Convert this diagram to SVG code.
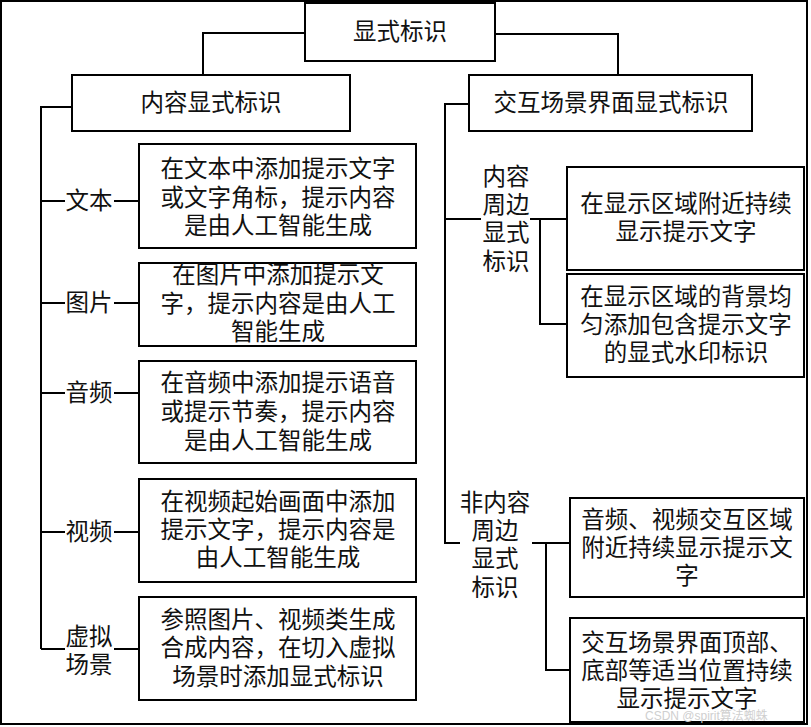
<svg xmlns="http://www.w3.org/2000/svg" width="811" height="727" viewBox="0 0 811 727">
<style>
.box{fill:#fff;stroke:#000;stroke-width:2}
.ln{fill:none;stroke:#000;stroke-width:2}
text{font-family:"Liberation Sans","Noto Sans CJK SC",sans-serif;font-size:23.5px;fill:#111;text-anchor:middle;dominant-baseline:central}
.wm{font-size:12px;fill:#cfcfcf;text-anchor:start}
</style>
<rect x="0" y="0" width="811" height="727" fill="#fff"/>
<rect x="1" y="1" width="806" height="723" fill="none" stroke="#000" stroke-width="2"/>
<g id="connectors">
<polyline class="ln" points="305,33 203,33 203,75"/>
<polyline class="ln" points="495,34 618,34 618,75"/>
<polyline class="ln" points="72,107 41,107 41,649"/>
<line class="ln" x1="41" y1="201" x2="65" y2="201"/><line class="ln" x1="114" y1="201" x2="139" y2="201"/>
<line class="ln" x1="41" y1="303" x2="65" y2="303"/><line class="ln" x1="114" y1="303" x2="139" y2="303"/>
<line class="ln" x1="41" y1="393" x2="65" y2="393"/><line class="ln" x1="114" y1="393" x2="139" y2="393"/>
<line class="ln" x1="41" y1="532" x2="65" y2="532"/><line class="ln" x1="114" y1="532" x2="139" y2="532"/>
<line class="ln" x1="41" y1="649" x2="65" y2="649"/><line class="ln" x1="114" y1="649" x2="139" y2="649"/>
<polyline class="ln" points="470,104 445,104 445,543 460,543"/>
<line class="ln" x1="445" y1="219" x2="481" y2="219"/>
<line class="ln" x1="530" y1="219" x2="567" y2="219"/>
<polyline class="ln" points="540,219 540,324 567,324"/>
<line class="ln" x1="532" y1="543" x2="570" y2="543"/>
<polyline class="ln" points="546,543 546,670 570,670"/>
</g>
<g id="root"><rect class="box" x="305" y="3" width="190" height="58"/><text x="400" y="32">显式标识</text></g>
<g id="content"><rect class="box" x="72" y="75" width="278" height="56"/><text x="211" y="103">内容显式标识</text></g>
<g id="interactive"><rect class="box" x="469" y="75" width="283" height="56"/><text x="611" y="103">交互场景界面显式标识</text></g>

<g id="label-text"><text x="89" y="201">文本</text></g>
<g id="box-text"><rect class="box" x="139" y="144" width="277" height="104"/>
<text><tspan x="278" y="169">在文本中添加提示文字</tspan><tspan x="278" y="198">或文字角标，提示内容</tspan><tspan x="278" y="226">是由人工智能生成</tspan></text></g>

<g id="label-image"><text x="89" y="303">图片</text></g>
<g id="box-image"><rect class="box" x="139" y="263" width="277" height="83"/>
<text><tspan x="278" y="275">在图片中添加提示文</tspan><tspan x="278" y="304">字，提示内容是由人工</tspan><tspan x="278" y="332">智能生成</tspan></text></g>

<g id="label-audio"><text x="89" y="393">音频</text></g>
<g id="box-audio"><rect class="box" x="139" y="361" width="277" height="102"/>
<text><tspan x="278" y="383">在音频中添加提示语音</tspan><tspan x="278" y="412">或提示节奏，提示内容</tspan><tspan x="278" y="441">是由人工智能生成</tspan></text></g>

<g id="label-video"><text x="89" y="532">视频</text></g>
<g id="box-video"><rect class="box" x="139" y="479" width="277" height="103"/>
<text><tspan x="278" y="502">在视频起始画面中添加</tspan><tspan x="278" y="530">提示文字，提示内容是</tspan><tspan x="278" y="558">由人工智能生成</tspan></text></g>

<g id="label-virtual"><text><tspan x="89" y="637">虚拟</tspan><tspan x="89" y="665">场景</tspan></text></g>
<g id="box-virtual"><rect class="box" x="139" y="597" width="277" height="103"/>
<text><tspan x="278" y="620">参照图片、视频类生成</tspan><tspan x="278" y="648">合成内容，在切入虚拟</tspan><tspan x="278" y="677">场景时添加显式标识</tspan></text></g>

<g id="label-around"><text><tspan x="506" y="177">内容</tspan><tspan x="506" y="205">周边</tspan><tspan x="506" y="233">显式</tspan><tspan x="506" y="262">标识</tspan></text></g>
<g id="box-near"><rect class="box" x="567" y="167" width="237" height="103"/>
<text><tspan x="686" y="204">在显示区域附近持续</tspan><tspan x="686" y="232">显示提示文字</tspan></text></g>
<g id="box-watermark"><rect class="box" x="567" y="274" width="237" height="103"/>
<text><tspan x="686" y="297">在显示区域的背景均</tspan><tspan x="686" y="325">匀添加包含提示文字</tspan><tspan x="686" y="353">的显式水印标识</tspan></text></g>

<g id="label-nonaround"><text><tspan x="495" y="503">非内容</tspan><tspan x="495" y="531">周边</tspan><tspan x="495" y="559">显式</tspan><tspan x="495" y="588">标识</tspan></text></g>
<g id="box-av"><rect class="box" x="570" y="498" width="234" height="99"/>
<text><tspan x="687" y="520">音频、视频交互区域</tspan><tspan x="687" y="548">附近持续显示提示文</tspan><tspan x="687" y="576">字</tspan></text></g>
<g id="box-edge"><rect class="box" x="570" y="618" width="234" height="104"/>
<text><tspan x="687" y="643">交互场景界面顶部、</tspan><tspan x="687" y="671">底部等适当位置持续</tspan><tspan x="687" y="699">显示提示文字</tspan></text></g>
<text class="wm" x="645" y="716">CSDN @spirit算法蜘蛛</text>
</svg>
